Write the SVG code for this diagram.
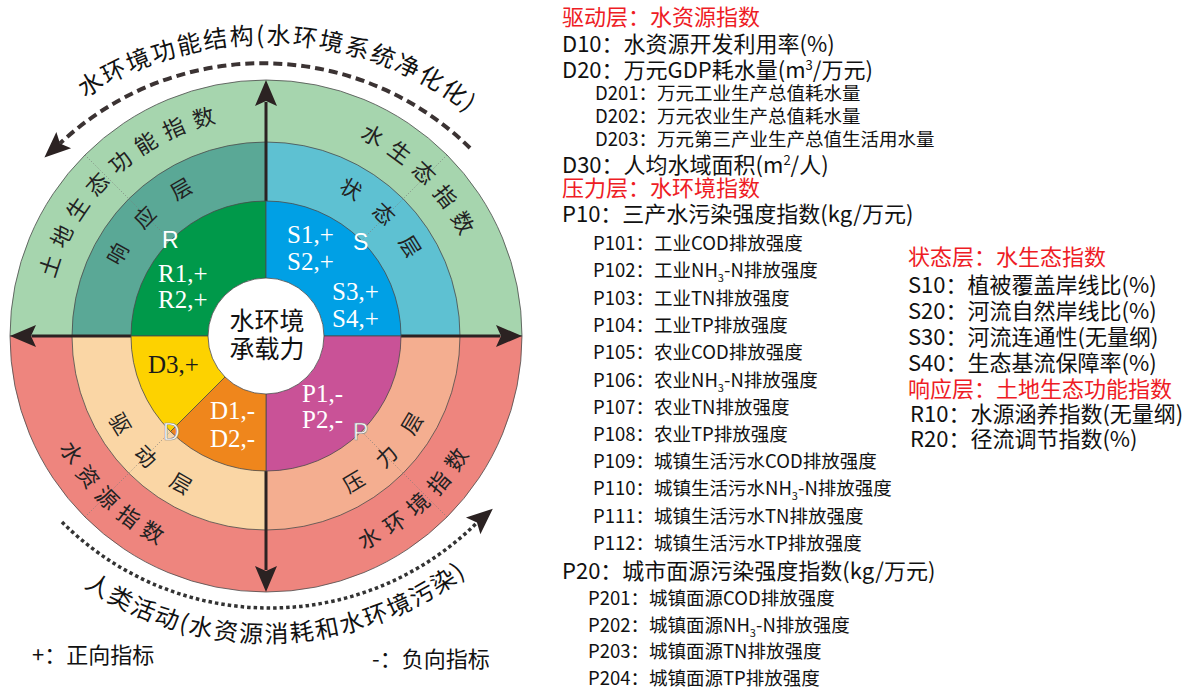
<svg xmlns="http://www.w3.org/2000/svg" xmlns:xlink="http://www.w3.org/1999/xlink" width="1192" height="689" viewBox="0 0 1192 689">
<style>
.cjk{font-family:"Noto Sans CJK SC","Noto Sans",sans-serif}
.main{font-size:22px;fill:#111}
.sub{font-size:18.5px;fill:#111}
.red{fill:#ee1c25}
.ring{font-size:22px;fill:#222}
.mid{font-size:21px;fill:#222}
.serif{font-family:"Liberation Serif",serif;font-size:25px;fill:#fff}
.letter{font-family:"Liberation Sans",Arial,sans-serif;font-size:23px;fill:#fff}
.sec{stroke:#4a4a4a;stroke-width:0.8}
.diag{stroke:#7a7a7a;stroke-width:0.8;stroke-dasharray:1 2;fill:none}
.axis{stroke:#2b2222;stroke-width:3;fill:none}
.dash{stroke:#3b3333;stroke-width:4;stroke-dasharray:9 5;fill:none}
.dot{stroke:#333;stroke-width:3.5;stroke-dasharray:3.5 3;fill:none}
</style>
<defs>
<path id="head" d="M0,0 L-26,-11 L-21,0 L-26,11 Z" fill="#2b2222"/>
<path id="titleArc" d="M -60,317.5 A 331 331 0 0 1 595.5,343.9" fill="none"/>
<path id="bottomArc" d="M -55.1,372.2 A 327 327 0 0 0 592.1,350.7" fill="none"/>
<path id="outerTop" d="M 47,336 A 219 219 0 0 1 485,336" fill="none"/>
<path id="outerBot" d="M 31,336 A 235 235 0 0 0 501,336" fill="none"/>
<path id="midTop" d="M 104,336 A 162 162 0 0 1 428,336" fill="none"/>
<path id="midBot" d="M 88,336 A 178 178 0 0 0 444,336" fill="none"/>
</defs>

<g id="outer-ring">
<path class="sec" d="M 10,336 A 256 256 0 0 1 522,336 Z" fill="#a6d5ae"/>
<path class="sec" d="M 522,336 A 256 256 0 0 1 10,336 Z" fill="#ee857e"/>
</g>

<g id="middle-ring">
<path class="sec" d="M 266,336 L 72,336 A 194 194 0 0 1 266,142 Z" fill="#5aa896"/>
<path class="sec" d="M 266,336 L 266,142 A 194 194 0 0 1 460,336 Z" fill="#5ec1d2"/>
<path class="sec" d="M 266,336 L 460,336 A 194 194 0 0 1 266,530 Z" fill="#f4ae90"/>
<path class="sec" d="M 266,336 L 266,530 A 194 194 0 0 1 72,336 Z" fill="#fad6a5"/>
</g>

<g id="diagonals">
<line class="diag" x1="361.5" y1="240.5" x2="447" y2="155"/>
<line class="diag" x1="170.5" y1="240.5" x2="85" y2="155"/>
<line class="diag" x1="170.5" y1="431.5" x2="85" y2="517"/>
<line class="diag" x1="361.5" y1="431.5" x2="447" y2="517"/>
</g>

<g id="ring-labels" class="cjk">
<text class="ring"><textPath href="#outerTop" startOffset="68.8" text-anchor="middle">土</textPath><textPath href="#outerTop" startOffset="99.4" text-anchor="middle">地</textPath><textPath href="#outerTop" startOffset="130" text-anchor="middle">生</textPath><textPath href="#outerTop" startOffset="160.5" text-anchor="middle">态</textPath><textPath href="#outerTop" startOffset="191.1" text-anchor="middle">功</textPath><textPath href="#outerTop" startOffset="221.7" text-anchor="middle">能</textPath><textPath href="#outerTop" startOffset="252.3" text-anchor="middle">指</textPath><textPath href="#outerTop" startOffset="282.9" text-anchor="middle">数</textPath></text>
<text class="ring"><textPath href="#outerTop" startOffset="451" text-anchor="middle">水</textPath><textPath href="#outerTop" startOffset="481.6" text-anchor="middle">生</textPath><textPath href="#outerTop" startOffset="512.2" text-anchor="middle">态</textPath><textPath href="#outerTop" startOffset="542.8" text-anchor="middle">指</textPath><textPath href="#outerTop" startOffset="573.3" text-anchor="middle">数</textPath></text>
<text class="ring"><textPath href="#outerBot" startOffset="127.1" text-anchor="middle">水</textPath><textPath href="#outerBot" startOffset="156.9" text-anchor="middle">资</textPath><textPath href="#outerBot" startOffset="186.6" text-anchor="middle">源</textPath><textPath href="#outerBot" startOffset="216.4" text-anchor="middle">指</textPath><textPath href="#outerBot" startOffset="246.1" text-anchor="middle">数</textPath></text>
<text class="ring"><textPath href="#outerBot" startOffset="479.9" text-anchor="middle">水</textPath><textPath href="#outerBot" startOffset="510.6" text-anchor="middle">环</textPath><textPath href="#outerBot" startOffset="541.4" text-anchor="middle">境</textPath><textPath href="#outerBot" startOffset="572.2" text-anchor="middle">指</textPath><textPath href="#outerBot" startOffset="602.9" text-anchor="middle">数</textPath></text>
<text class="mid"><textPath href="#midTop" startOffset="82" text-anchor="middle">响</textPath><textPath href="#midTop" startOffset="125.8" text-anchor="middle">应</textPath><textPath href="#midTop" startOffset="169.6" text-anchor="middle">层</textPath></text>
<text class="mid"><textPath href="#midTop" startOffset="339.3" text-anchor="middle">状</textPath><textPath href="#midTop" startOffset="378.9" text-anchor="middle">态</textPath><textPath href="#midTop" startOffset="418.5" text-anchor="middle">层</textPath></text>
<text class="mid"><textPath href="#midBot" startOffset="96.3" text-anchor="middle">驱</textPath><textPath href="#midBot" startOffset="139.8" text-anchor="middle">动</textPath><textPath href="#midBot" startOffset="186.4" text-anchor="middle">层</textPath></text>
<text class="mid"><textPath href="#midBot" startOffset="375.9" text-anchor="middle">压</textPath><textPath href="#midBot" startOffset="419.4" text-anchor="middle">力</textPath><textPath href="#midBot" startOffset="462.9" text-anchor="middle">层</textPath></text>
</g>

<g id="connectors">
<line class="axis" x1="266" y1="102" x2="266" y2="570"/>
<line class="axis" x1="32" y1="336" x2="500" y2="336"/>
<use href="#head" transform="translate(266,80) rotate(-90)"/>
<use href="#head" transform="translate(266,592) rotate(90)"/>
<use href="#head" transform="translate(10,336) rotate(180)"/>
<use href="#head" transform="translate(522,336)"/>
<path class="dash" d="M 470,148 A 296 296 0 0 0 60,143.5"/>
<use href="#head" transform="translate(44.4,157.5) rotate(138)"/>
<path class="dot" d="M 62,522 A 294 294 0 0 0 477,522.6"/>
<use href="#head" transform="translate(492.8,508.8) rotate(-41)"/>
</g>

<g id="inner-core">
<path class="sec" d="M 266,336 L 131,336 A 135 135 0 0 1 266,201 Z" fill="#00994a"/>
<path class="sec" d="M 266,336 L 266,201 A 135 135 0 0 1 401,336 Z" fill="#00a0e5"/>
<path class="sec" d="M 266,336 L 401,336 A 135 135 0 0 1 266,471 Z" fill="#c95297"/>
<path class="sec" d="M 266,336 L 266,471 A 135 135 0 0 1 170.5,431.5 Z" fill="#ef861c"/>
<path class="sec" d="M 266,336 L 170.5,431.5 A 135 135 0 0 1 131,336 Z" fill="#fdd200"/>
<text class="serif" x="158" y="282">R1,+</text>
<text class="serif" x="158" y="308">R2,+</text>
<text class="serif" x="287" y="243">S1,+</text>
<text class="serif" x="287" y="270">S2,+</text>
<text class="serif" x="332" y="300">S3,+</text>
<text class="serif" x="332" y="327">S4,+</text>
<text class="serif" x="148" y="373" fill="#1a1a1a" style="fill:#1a1a1a">D3,+</text>
<text class="serif" x="210" y="419">D1,-</text>
<text class="serif" x="210" y="447">D2,-</text>
<text class="serif" x="302" y="402">P1,-</text>
<text class="serif" x="302" y="428">P2,-</text>
<text class="letter" x="162" y="248">R</text>
<text class="letter" x="353" y="250">S</text>
<text class="letter" x="163" y="440" stroke="#8a8a8a" stroke-width="0.6">D</text>
<text class="letter" x="353" y="440" stroke="#8a8a8a" stroke-width="0.6">P</text>
</g>

<g id="center">
<circle cx="266" cy="336" r="58" fill="#fff" class="sec"/>
<text class="cjk" x="267" y="330" font-size="25" text-anchor="middle" fill="#111">水环境</text>
<text class="cjk" x="267" y="358" font-size="25" text-anchor="middle" fill="#111">承载力</text>
</g>

<g id="arc-titles" class="cjk">
<text font-size="24" letter-spacing="2" fill="#111"><textPath href="#titleArc" startOffset="50%" text-anchor="middle">水环境功能结构(水环境系统净化化)</textPath></text>
<text font-size="24" letter-spacing="2" fill="#111"><textPath href="#bottomArc" startOffset="50%" text-anchor="middle">人类活动(水资源消耗和水环境污染)</textPath></text>
</g>

<g id="legend" class="cjk main">
<text x="32" y="663">+：正向指标</text>
<text x="372" y="667">-：负向指标</text>
</g>

<g id="indicator-list" class="cjk">
<text class="main red" x="562" y="25">驱动层：水资源指数</text>
<text class="main" x="562" y="52">D10：水资源开发利用率(%)</text>
<text class="main" x="562" y="78">D20：万元GDP耗水量(m<tspan font-size="13" dy="-8">3</tspan><tspan dy="8">/万元)</tspan></text>
<text class="sub" x="595" y="100">D201：万元工业生产总值耗水量</text>
<text class="sub" x="595" y="123">D202：万元农业生产总值耗水量</text>
<text class="sub" x="595" y="146">D203：万元第三产业生产总值生活用水量</text>
<text class="main" x="562" y="173">D30：人均水域面积(m<tspan font-size="13" dy="-8">2</tspan><tspan dy="8">/人)</tspan></text>
<text class="main red" x="562" y="196">压力层：水环境指数</text>
<text class="main" x="562" y="222">P10：三产水污染强度指数(kg/万元)</text>
<text class="sub" x="593" y="250">P101：工业COD排放强度</text>
<text class="sub" x="593" y="277">P102：工业NH<tspan font-size="11" dy="5">3</tspan><tspan dy="-5">-N排放强度</tspan></text>
<text class="sub" x="593" y="305">P103：工业TN排放强度</text>
<text class="sub" x="593" y="332">P104：工业TP排放强度</text>
<text class="sub" x="593" y="359">P105：农业COD排放强度</text>
<text class="sub" x="593" y="387">P106：农业NH<tspan font-size="11" dy="5">3</tspan><tspan dy="-5">-N排放强度</tspan></text>
<text class="sub" x="593" y="414">P107：农业TN排放强度</text>
<text class="sub" x="593" y="441">P108：农业TP排放强度</text>
<text class="sub" x="593" y="468">P109：城镇生活污水COD排放强度</text>
<text class="sub" x="593" y="495">P110：城镇生活污水NH<tspan font-size="11" dy="5">3</tspan><tspan dy="-5">-N排放强度</tspan></text>
<text class="sub" x="593" y="523">P111：城镇生活污水TN排放强度</text>
<text class="sub" x="593" y="550">P112：城镇生活污水TP排放强度</text>
<text class="main" x="562" y="579">P20：城市面源污染强度指数(kg/万元)</text>
<text class="sub" x="588" y="605">P201：城镇面源COD排放强度</text>
<text class="sub" x="588" y="632">P202：城镇面源NH<tspan font-size="11" dy="5">3</tspan><tspan dy="-5">-N排放强度</tspan></text>
<text class="sub" x="588" y="658">P203：城镇面源TN排放强度</text>
<text class="sub" x="588" y="685">P204：城镇面源TP排放强度</text>
<text class="main red" x="908" y="265">状态层：水生态指数</text>
<text class="main" x="908" y="293">S10：植被覆盖岸线比(%)</text>
<text class="main" x="908" y="319">S20：河流自然岸线比(%)</text>
<text class="main" x="908" y="345">S30：河流连通性(无量纲)</text>
<text class="main" x="908" y="371">S40：生态基流保障率(%)</text>
<text class="main red" x="908" y="397">响应层：土地生态功能指数</text>
<text class="main" x="910" y="422">R10：水源涵养指数(无量纲)</text>
<text class="main" x="910" y="447">R20：径流调节指数(%)</text>
</g>
</svg>
